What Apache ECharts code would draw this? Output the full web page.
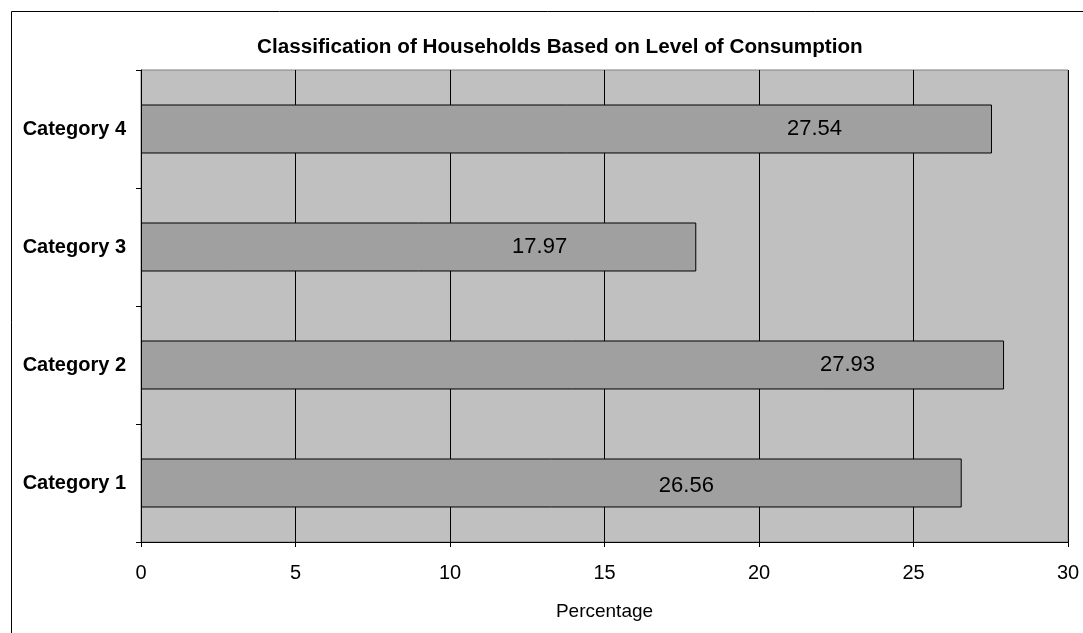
<!DOCTYPE html>
<html>
<head>
<meta charset="utf-8">
<script src="https://cdn.jsdelivr.net/npm/echarts@6/dist/echarts.min.js"></script>
<style>
	html, body { margin: 0; padding: 0; background: #fff; }
	#chart { width: 1083px; height: 633px; }
</style>
</head>
<body>
<div id="chart"></div>
<script>
var categories = ['Category 1', 'Category 2', 'Category 3', 'Category 4'];
var percentages = [26.56, 27.93, 17.97, 27.54];
var xTicks = [0, 5, 10, 15, 20, 25, 30];

// labels in the original were dragged around by hand, shift them from the bar centre
var labelShift = [[135, 3], [275, 0], [121, 0], [248, 0]];

var chart = echarts.init(document.getElementById('chart'));
var font = 'Liberation Sans, Arial, sans-serif';

var option = {
	animation: false,
	graphic: [{
		type: 'rect',
		shape: { x: 11.5, y: 11.5, width: 1200, height: 800 },
		style: { fill: 'none', stroke: '#000', lineWidth: 1 },
		silent: true
	}],
	title: {
		text: 'Classification of Households Based on Level of Consumption',
		left: 252,
		top: 32,
		textStyle: { fontFamily: font, fontSize: 20.7, fontWeight: 'bold', color: '#000' }
	},
	grid: {
		left: 141,
		right: 15,
		top: 70,
		bottom: 91,
		show: true,
		backgroundColor: '#c0c0c0',
		borderColor: '#808080',
		borderWidth: 1
	},
	xAxis: {
		type: 'value',
		min: xTicks[0],
		max: xTicks[xTicks.length - 1],
		interval: 5,
		name: 'Percentage',
		nameLocation: 'middle',
		nameGap: 60,
		nameTextStyle: { fontFamily: font, fontSize: 19, color: '#000' },
		axisLine: { show: true, lineStyle: { color: '#000', width: 1 } },
		axisTick: { show: true, length: 5, lineStyle: { color: '#000' } },
		axisLabel: { fontFamily: font, fontSize: 20, color: '#000', margin: 21 },
		splitLine: { show: true, lineStyle: { color: '#000', width: 1 } }
	},
	yAxis: {
		type: 'category',
		data: categories,
		axisLine: { show: true, lineStyle: { color: '#000', width: 1 } },
		axisTick: { show: true, length: 5, lineStyle: { color: '#000' } },
		axisLabel: { fontFamily: font, fontSize: 20, fontWeight: 'bold', color: '#000', margin: 15 },
		splitLine: { show: false }
	},
	series: [{
		type: 'bar',
		barWidth: '41.5%',
		itemStyle: { color: '#a0a0a0', borderColor: '#000', borderWidth: 1 },
		label: {
			show: true,
			position: 'inside',
			fontFamily: font,
			fontSize: 22,
			color: '#000'
		},
		data: percentages.map(function(v, i) {
			return { value: v, label: { offset: labelShift[i] } };
		})
	}]
};

chart.setOption(option);
</script>
</body>
</html>
